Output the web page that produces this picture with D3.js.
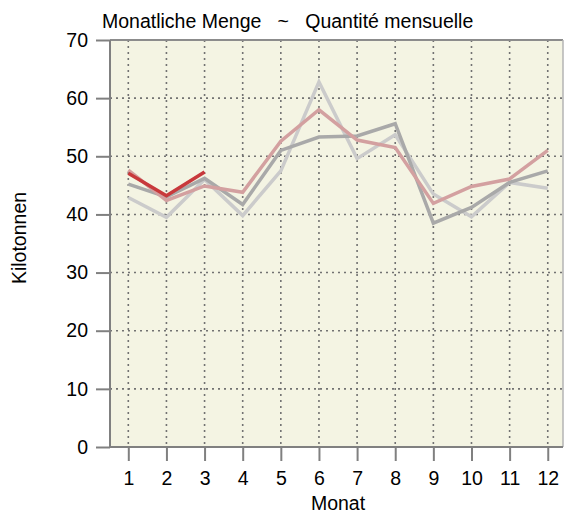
<!DOCTYPE html>
<html>
<head>
<meta charset="utf-8">
<script src="https://cdn.jsdelivr.net/npm/d3@7"></script>
<style>
  html, body { margin: 0; padding: 0; background: #ffffff; }
  svg { display: block; font-family: "Liberation Sans", Arial, sans-serif; }
</style>
</head>
<body>
<svg id="chart" width="567" height="513"></svg>
<script>
// Monthly quantities in kilotonnes, one series per year
const months = [1, 2, 3, 4, 5, 6, 7, 8, 9, 10, 11, 12];
const yearA = [42.9, 39.5, 46.0, 39.8, 47.5, 62.8, 49.6, 53.7, 43.5, 39.6, 45.5, 44.5];
const yearB = [45.2, 43.0, 46.2, 41.7, 51.0, 53.3, 53.5, 55.6, 38.5, 41.2, 45.5, 47.5];
const yearC = [47.6, 42.4, 44.9, 43.8, 52.6, 58.0, 52.8, 51.5, 41.9, 44.8, 46.1, 51.0];
const yearD = [47.1, 43.2, 47.3];
const yTicks = [0, 10, 20, 30, 40, 50, 60, 70];

const seriesList = [
  { values: yearA, color: "#cbcbcb" },
  { values: yearB, color: "#a9a9a9" },
  { values: yearC, color: "#d3a0a0" },
  { values: yearD, color: "#c8393c" }
];

const svg = d3.select("#chart");
const plotLeft = 110, plotRight = 563, plotTop = 40, plotBottom = 447;
const fontSize = 19.5;

const x = d3.scaleLinear().domain([0.52, 12.4]).range([plotLeft, plotRight]);
const y = d3.scaleLinear().domain([0, 70]).range([plotBottom, plotTop]);

// plot background
svg.append("rect")
  .attr("x", plotLeft).attr("y", plotTop)
  .attr("width", plotRight - plotLeft).attr("height", plotBottom - plotTop)
  .attr("fill", "#f4f4e3");

// dotted grid
const grid = svg.append("g")
  .attr("stroke", "#727272")
  .attr("stroke-width", 1.6)
  .attr("stroke-dasharray", "2,4");
grid.selectAll("line.v").data(months).join("line")
  .attr("class", "v")
  .attr("x1", d => x(d)).attr("x2", d => x(d))
  .attr("y1", plotTop).attr("y2", plotBottom);
grid.selectAll("line.h").data(yTicks.filter(d => d > 0 && d < 70)).join("line")
  .attr("class", "h")
  .attr("x1", plotLeft).attr("x2", plotRight)
  .attr("y1", d => y(d)).attr("y2", d => y(d));

// frame: top and right edges
svg.append("line")
  .attr("x1", plotLeft).attr("x2", plotRight).attr("y1", plotTop).attr("y2", plotTop)
  .attr("stroke", "#8c8c8c").attr("stroke-width", 2);
svg.append("line")
  .attr("x1", plotRight).attr("x2", plotRight).attr("y1", plotTop).attr("y2", plotBottom)
  .attr("stroke", "#b4b4b4").attr("stroke-width", 1.5);

// series lines
const line = d3.line()
  .x((d, i) => x(months[i]))
  .y(d => y(d));
svg.append("g").selectAll("path").data(seriesList).join("path")
  .attr("d", s => line(s.values))
  .attr("fill", "none")
  .attr("stroke", s => s.color)
  .attr("stroke-width", 3.5)
  .attr("stroke-linejoin", "miter");

// axes
const yAxis = d3.axisLeft(y).tickValues(yTicks).tickSize(14).tickPadding(8);
const xAxis = d3.axisBottom(x).tickValues(months).tickSize(14).tickPadding(10)
  .tickFormat(d3.format("d"));

const gy = svg.append("g").attr("transform", `translate(${plotLeft},0)`).call(yAxis);
const gx = svg.append("g").attr("transform", `translate(0,${plotBottom})`).call(xAxis);

[gx, gy].forEach(g => {
  g.select(".domain").attr("stroke", "#808080").attr("stroke-width", 2);
  g.selectAll(".tick line").attr("stroke", "#808080").attr("stroke-width", 2);
  g.selectAll(".tick text")
    .attr("fill", "#000")
    .attr("font-size", fontSize)
    .attr("font-family", "Liberation Sans, Arial, sans-serif");
});
// keep the domain paths as straight lines without end caps
gy.select(".domain").attr("d", `M0,${plotBottom}V${plotTop}`);
gx.select(".domain").attr("d", `M${plotLeft},0H${plotRight}`);

// titles
svg.append("text")
  .attr("x", 102).attr("y", 28)
  .attr("font-size", fontSize)
  .attr("fill", "#000")
  .attr("xml:space", "preserve")
  .style("white-space", "pre")
  .text("Monatliche Menge   ~   Quantité mensuelle");

svg.append("text")
  .attr("x", 338).attr("y", 510)
  .attr("text-anchor", "middle")
  .attr("font-size", fontSize)
  .attr("fill", "#000")
  .text("Monat");

svg.append("text")
  .attr("transform", "translate(26,238) rotate(-90)")
  .attr("text-anchor", "middle")
  .attr("font-size", fontSize)
  .attr("fill", "#000")
  .text("Kilotonnen");
</script>
</body>
</html>
